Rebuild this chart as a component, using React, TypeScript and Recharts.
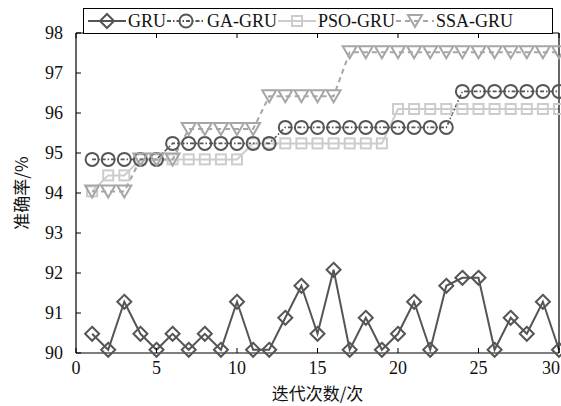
import { LineChart, Line, XAxis, YAxis } from "recharts";

const iterations = [1, 2, 3, 4, 5, 6, 7, 8, 9, 10, 11, 12, 13, 14, 15, 16, 17, 18, 19, 20, 21, 22, 23, 24, 25, 26, 27, 28, 29, 30];
const gru = [90.48, 90.08, 91.28, 90.48, 90.08, 90.48, 90.08, 90.48, 90.08, 91.28, 90.08, 90.08, 90.88, 91.68, 90.48, 92.08, 90.08, 90.88, 90.08, 90.48, 91.28, 90.08, 91.68, 91.88, 91.88, 90.08, 90.88, 90.48, 91.28, 90.08];
const gaGru = [94.84, 94.84, 94.84, 94.84, 94.84, 95.24, 95.24, 95.24, 95.24, 95.24, 95.24, 95.24, 95.64, 95.64, 95.64, 95.64, 95.64, 95.64, 95.64, 95.64, 95.64, 95.64, 95.64, 96.54, 96.54, 96.54, 96.54, 96.54, 96.54, 96.54];
const psoGru = [94.04, 94.44, 94.44, 94.84, 94.84, 94.84, 94.84, 94.84, 94.84, 94.84, 95.24, 95.24, 95.24, 95.24, 95.24, 95.24, 95.24, 95.24, 95.24, 96.1, 96.1, 96.1, 96.1, 96.1, 96.1, 96.1, 96.1, 96.1, 96.1, 96.1];
const ssaGru = [94.04, 94.04, 94.04, 94.84, 94.84, 94.84, 95.6, 95.6, 95.6, 95.6, 95.6, 96.42, 96.42, 96.42, 96.42, 96.42, 97.52, 97.52, 97.52, 97.52, 97.52, 97.52, 97.52, 97.52, 97.52, 97.52, 97.52, 97.52, 97.52, 97.52];
const xTicks = [0, 5, 10, 15, 20, 25, 30];
const yTicks = [90, 91, 92, 93, 94, 95, 96, 97, 98];

const data = iterations.map((it, i) => ({
  it,
  gru: gru[i],
  ga: gaGru[i],
  pso: psoGru[i],
  ssa: ssaGru[i],
}));

const DARK = "#555555";
const LIGHT = "#cccccc";
const MID = "#a6a6a6";
const SERIF = "Liberation Serif";
const CJK = "Noto Sans CJK SC";

type Kind = "diamond" | "circle" | "square" | "triangle";

function Marker({ kind, cx, cy }: { kind: Kind; cx: number; cy: number }) {
  if (kind === "diamond")
    return <polygon points={`${cx},${cy - 7} ${cx + 7},${cy} ${cx},${cy + 7} ${cx - 7},${cy}`} fill="none" stroke={DARK} strokeWidth={2} />;
  if (kind === "circle")
    return <circle cx={cx} cy={cy} r={6.5} fill="none" stroke={DARK} strokeWidth={2} />;
  if (kind === "square")
    return <rect x={cx - 5} y={cy - 5} width={10} height={10} fill="none" stroke={LIGHT} strokeWidth={2} />;
  return <polygon points={`${cx - 7},${cy - 6} ${cx + 7},${cy - 6} ${cx},${cy + 6}`} fill="none" stroke={MID} strokeWidth={2} />;
}

const dotFor = (kind: Kind) => (props: any) => {
  const { cx, cy, index } = props;
  return <Marker key={`${kind}-${index}`} kind={kind} cx={cx} cy={cy} />;
};

const legendItems: { label: string; kind: Kind; color: string; dash?: string }[] = [
  { label: "GRU", kind: "diamond", color: DARK },
  { label: "GA-GRU", kind: "circle", color: DARK, dash: "4 2 1.5 2" },
  { label: "PSO-GRU", kind: "square", color: LIGHT },
  { label: "SSA-GRU", kind: "triangle", color: MID, dash: "5 4" },
];

const LegendBox = () => (
  <div
    style={{
      position: "absolute",
      left: 83,
      top: 8,
      width: 470,
      border: "1px solid #000",
      background: "#fff",
      height: 26,
      boxSizing: "border-box",
      display: "flex",
      alignItems: "center",
      paddingLeft: 4,
      fontFamily: SERIF,
      fontSize: 18,
      color: "#111",
      whiteSpace: "nowrap",
      zIndex: 2,
    }}
  >
    {legendItems.map((it) => (
      <div key={it.label} style={{ display: "flex", alignItems: "center", marginRight: 1 }}>
        <svg width={38} height={20}>
          <line x1={0} y1={10} x2={38} y2={10} stroke={it.color} strokeWidth={2} strokeDasharray={it.dash} />
          <Marker kind={it.kind} cx={19} cy={10} />
        </svg>
        <span style={{ marginLeft: 2 }}>{it.label}</span>
      </div>
    ))}
  </div>
);

// the last label would run past the right edge, so pin it to the edge
const XTick = (p: any) => {
  const last = p.payload.value === xTicks[xTicks.length - 1];
  return (
    <text x={last ? 560 : p.x} y={p.y} dy="0.72em" textAnchor={last ? "end" : "middle"} fill="#111" fontSize={18} fontFamily={SERIF}>
      {p.payload.value}
    </text>
  );
};

const YTick = (p: any) => (
  <text x={p.x} y={p.y} dy="0.35em" textAnchor="end" fill="#111" fontSize={18} fontFamily={SERIF}>
    {p.payload.value}
  </text>
);

const blank = () => <g />;

export default function App() {
  return (
    <div style={{ position: "absolute", left: 0, top: 0, width: 561, height: 406, background: "#fff" }}>
      <LineChart width={561} height={406} data={data} margin={{ top: 32, right: 1, bottom: 0, left: 0 }}>
        <XAxis
          xAxisId="b"
          type="number"
          dataKey="it"
          domain={[0, 30]}
          ticks={xTicks}
          height={53}
          interval={0}
          tickSize={-5}
          tickMargin={13}
          axisLine={{ stroke: "#000", strokeWidth: 1.2 }}
          tickLine={{ stroke: "#000" }}
          tick={XTick}
          label={{ value: "迭代次数/次", position: "insideBottom", offset: 6, fill: "#111", fontSize: 17, fontFamily: CJK }}
        />
        <XAxis
          xAxisId="t"
          orientation="top"
          type="number"
          dataKey="it"
          domain={[0, 30]}
          ticks={xTicks}
          height={1}
          tickSize={-5}
          axisLine={{ stroke: "#000", strokeWidth: 1.2 }}
          tickLine={{ stroke: "#000" }}
          tick={blank}
        />
        <YAxis
          yAxisId="l"
          type="number"
          domain={[90, 98]}
          ticks={yTicks}
          width={76}
          interval={0}
          tickSize={-5}
          tickMargin={18}
          axisLine={{ stroke: "#000", strokeWidth: 1.2 }}
          tickLine={{ stroke: "#000" }}
          tick={YTick}
          label={{ value: "准确率/%", angle: -90, position: "insideLeft", offset: 22, fill: "#111", fontSize: 17, fontFamily: CJK, style: { textAnchor: "middle" } }}
        />
        <YAxis
          yAxisId="r"
          orientation="right"
          type="number"
          domain={[90, 98]}
          ticks={yTicks}
          width={1}
          tickSize={-5}
          axisLine={{ stroke: "#000", strokeWidth: 1.2 }}
          tickLine={{ stroke: "#000" }}
          tick={blank}
        />
        <Line xAxisId="b" yAxisId="l" dataKey="gru" stroke={DARK} strokeWidth={2} dot={dotFor("diamond")} isAnimationActive={false} />
        <Line xAxisId="b" yAxisId="l" dataKey="pso" stroke={LIGHT} strokeWidth={2} dot={dotFor("square")} isAnimationActive={false} />
        <Line xAxisId="b" yAxisId="l" dataKey="ga" stroke={DARK} strokeWidth={1.6} strokeDasharray="4 2 1.5 2" dot={dotFor("circle")} isAnimationActive={false} />
        <Line xAxisId="b" yAxisId="l" dataKey="ssa" stroke={MID} strokeWidth={2} strokeDasharray="5 4" dot={dotFor("triangle")} isAnimationActive={false} />
      </LineChart>
      <LegendBox />
    </div>
  );
}
